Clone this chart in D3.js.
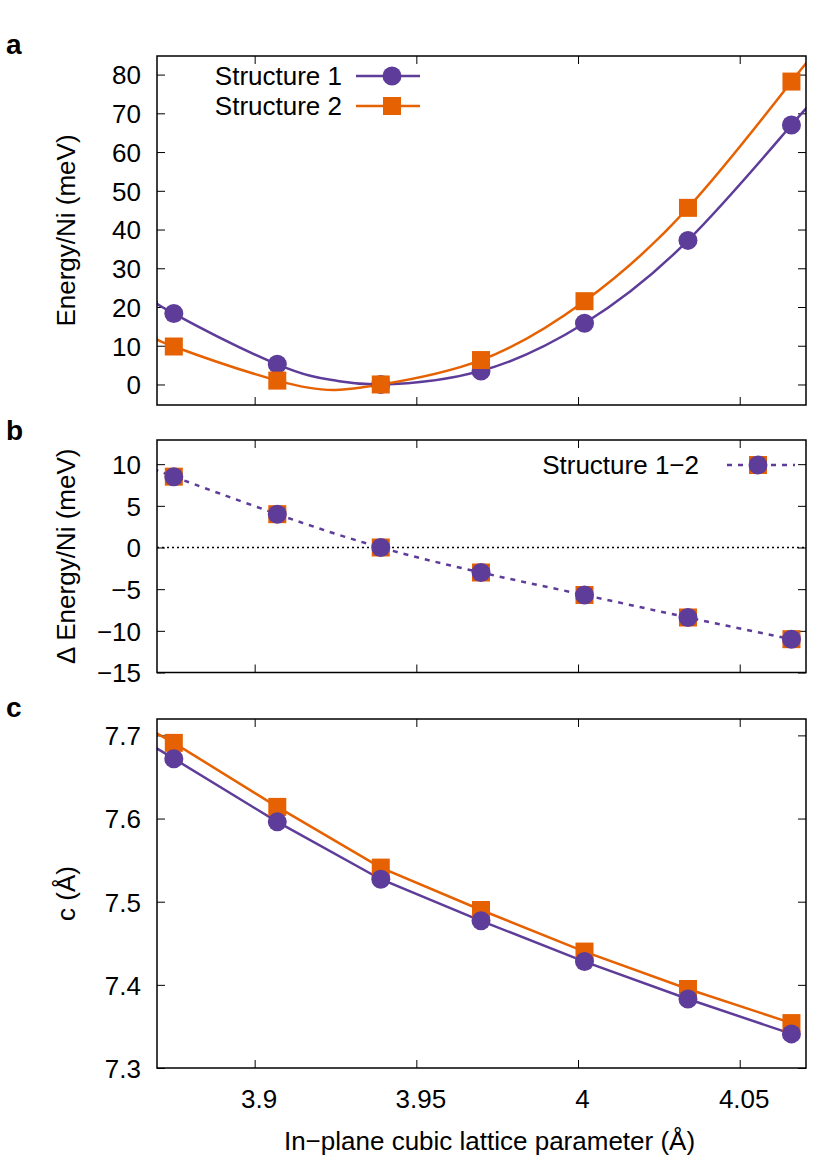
<!DOCTYPE html>
<html>
<head>
<meta charset="utf-8">
<script src="https://cdn.jsdelivr.net/npm/d3@7"></script>
<style>
  body { margin: 0; background: #fff; }
  text { font-family: "Liberation Sans", Arial, sans-serif; fill: #000; }
</style>
</head>
<body>
<svg id="chart" width="830" height="1162"></svg>
<script>
// data
const lattice = [3.875, 3.907, 3.939, 3.970, 4.002, 4.034, 4.066]
const energy1 = [18.3, 5.2, 0, 3.5, 15.8, 37.2, 67.0]
const energy2 = [9.8, 1.0, 0, 6.3, 21.5, 45.6, 78.2]
// fitted curves (as drawn, incl. ends at the frame)
const fitX = [3.870, 3.875, 3.907, 3.925, 3.939, 3.970, 4.002, 4.034, 4.066, 4.072]
const fit1 = [21.3, 18.3, 5.2, 1.0, 0, 3.5, 15.8, 37.2, 67.0, 72.0]
const fit2 = [12.0, 9.8, 1.0, -1.4, 0, 6.3, 21.5, 45.6, 78.2, 84.0]
const deltaE = [8.5, 4.0, 0, -3.0, -5.7, -8.4, -11.0]
const deltaFitX = [3.869, 3.875, 3.907, 3.939, 3.970, 4.002, 4.034, 4.066]
const deltaFit = [9.4, 8.5, 4.0, 0, -3.0, -5.7, -8.4, -11.0]
const cX = [3.869, 3.875, 3.907, 3.939, 3.970, 4.002, 4.034, 4.066]
const c1 = [7.686, 7.672, 7.596, 7.527, 7.477, 7.428, 7.383, 7.341]
const c2 = [7.704, 7.691, 7.614, 7.541, 7.490, 7.440, 7.395, 7.354]
const xTicks = [3.9, 3.95, 4, 4.05]

const purple = '#5e3c99', orange = '#e66101'
const fs = '26px'
const svg = d3.select('#chart')
const left = 157, right = 806

const x = d3.scaleLinear().domain([3.8698, 4.0705]).range([left, right])

function panel ({ top, bottom, domain, ticks, fmt, label, letter, letterY }) {
  const y = d3.scaleLinear().domain(domain).range([bottom, top])
  const g = svg.append('g')
  const clipId = 'clip' + letter
  svg.append('clipPath').attr('id', clipId).append('rect')
    .attr('x', left).attr('y', top).attr('width', right - left).attr('height', bottom - top)
  const blank = () => ''
  const axes = [
    [d3.axisBottom(x).tickValues(xTicks).tickSize(-8).tickFormat(letter === 'c' ? d3.format('') : blank), `translate(0,${bottom})`, 'b'],
    [d3.axisTop(x).tickValues(xTicks).tickSize(-8).tickFormat(blank), `translate(0,${top})`, 't'],
    [d3.axisLeft(y).tickValues(ticks).tickSize(-8).tickFormat(fmt), `translate(${left},0)`, 'l'],
    [d3.axisRight(y).tickValues(ticks).tickSize(-8).tickFormat(blank), `translate(${right},0)`, 'r']
  ]
  axes.forEach(([ax, tr, side]) => {
    const a = g.append('g').attr('transform', tr).call(ax).attr('font-size', null).attr('font-family', null)
    a.select('.domain').remove()
    a.selectAll('line').attr('stroke', '#000').attr('stroke-width', 1)
    a.selectAll('text').style('font-size', fs)
    if (side === 'l') a.selectAll('text').attr('x', -16).attr('dy', '0.36em')
    if (side === 'b') a.selectAll('text').attr('y', 22).attr('dx', 4)
  })
  g.append('text').attr('transform', `translate(${66},${(top + bottom) / 2}) rotate(-90)`)
    .attr('text-anchor', 'middle').attr('dy', '0.35em').style('font-size', fs).text(label)
  svg.append('text').attr('x', 6).attr('y', letterY).style('font-size', '28px').style('font-weight', 'bold').text(letter)
  const plot = svg.append('g').attr('clip-path', `url(#${clipId})`)
  svg.append('rect').attr('x', left).attr('y', top).attr('width', right - left).attr('height', bottom - top)
    .attr('fill', 'none').attr('stroke', '#000').attr('stroke-width', 1.5)
  return { y, plot }
}

function circles (sel, xs, ys, y) {
  sel.selectAll(null).data(xs).join('circle')
    .attr('cx', d => x(d)).attr('cy', (d, i) => y(ys[i])).attr('r', 9.5).attr('fill', purple)
}
function squares (sel, xs, ys, y) {
  sel.selectAll(null).data(xs).join('rect')
    .attr('x', d => x(d) - 9).attr('y', (d, i) => y(ys[i]) - 9).attr('width', 18).attr('height', 18).attr('fill', orange)
}

// panel a
{
  const { y, plot } = panel({ top: 56, bottom: 405, domain: [-5.3, 84.8], ticks: d3.range(0, 81, 10), fmt: d3.format('d'),
    label: 'Energy/Ni (meV)', letter: 'a', letterY: 54 })
  const line = d3.line().x(d => x(d[0])).y(d => y(d[1])).curve(d3.curveNatural)
  plot.append('path').datum(fitX.map((d, i) => [d, fit1[i]])).attr('d', line).attr('fill', 'none').attr('stroke', purple).attr('stroke-width', 2.5)
  plot.append('path').datum(fitX.map((d, i) => [d, fit2[i]])).attr('d', line).attr('fill', 'none').attr('stroke', orange).attr('stroke-width', 2.5)
  circles(plot, lattice, energy1, y)
  squares(plot, lattice, energy2, y)
  const lg = svg.append('g')
  ;[['Structure 1', purple, 'c', 76], ['Structure 2', orange, 's', 106]].forEach(([t, col, m, ly]) => {
    lg.append('text').attr('x', 342).attr('y', ly).attr('dy', '0.35em').attr('text-anchor', 'end').style('font-size', fs).text(t)
    lg.append('line').attr('x1', 356).attr('x2', 420).attr('y1', ly).attr('y2', ly).attr('stroke', col).attr('stroke-width', 2.5)
    if (m === 'c') lg.append('circle').attr('cx', 392).attr('cy', ly).attr('r', 9.5).attr('fill', col)
    else lg.append('rect').attr('x', 383).attr('y', ly - 9).attr('width', 18).attr('height', 18).attr('fill', col)
  })
}

// panel b
{
  const { y, plot } = panel({ top: 440, bottom: 672.5, domain: [-15, 12.9], ticks: d3.range(-15, 11, 5), fmt: d => d3.format('d')(d).replace('-', '\u2212'),
    label: '\u0394 Energy/Ni (meV)', letter: 'b', letterY: 440 })
  plot.append('line').attr('x1', left).attr('x2', right).attr('y1', y(0)).attr('y2', y(0))
    .attr('stroke', '#000').attr('stroke-width', 1.5).attr('stroke-dasharray', '2,3')
  const line = d3.line().x(d => x(d[0])).y(d => y(d[1])).curve(d3.curveNatural)
  plot.append('path').datum(deltaFitX.map((d, i) => [d, deltaFit[i]])).attr('d', line).attr('fill', 'none')
    .attr('stroke', purple).attr('stroke-width', 2.5).attr('stroke-dasharray', '5,6')
  squares(plot, lattice, deltaE, y)
  circles(plot, lattice, deltaE, y)
  svg.append('text').attr('x', 699).attr('y', 465).attr('dy', '0.35em').attr('text-anchor', 'end').style('font-size', fs).text('Structure 1\u22122')
  svg.append('line').attr('x1', 727).attr('x2', 795).attr('y1', 465).attr('y2', 465).attr('stroke', purple).attr('stroke-width', 2.5).attr('stroke-dasharray', '5,6')
  svg.append('rect').attr('x', 749).attr('y', 456).attr('width', 18).attr('height', 18).attr('fill', orange)
  svg.append('circle').attr('cx', 758).attr('cy', 465).attr('r', 9.5).attr('fill', purple)
}

// panel c
{
  const { y, plot } = panel({ top: 719, bottom: 1068, domain: [7.3, 7.7197], ticks: [7.3, 7.4, 7.5, 7.6, 7.7], fmt: d3.format('.1f'),
    label: 'c (\u00c5)', letter: 'c', letterY: 717 })
  const line = d3.line().x(d => x(d[0])).y(d => y(d[1]))
  plot.append('path').datum(cX.map((d, i) => [d, c1[i]])).attr('d', line).attr('fill', 'none').attr('stroke', purple).attr('stroke-width', 2.5)
  plot.append('path').datum(cX.map((d, i) => [d, c2[i]])).attr('d', line).attr('fill', 'none').attr('stroke', orange).attr('stroke-width', 2.5)
  squares(plot, lattice, c2.slice(1), y)
  circles(plot, lattice, c1.slice(1), y)
  svg.append('text').attr('x', (left + right) / 2 + 8).attr('y', 1150).attr('text-anchor', 'middle').style('font-size', fs)
    .text('In\u2212plane cubic lattice parameter (\u00c5)')
}
</script>
</body>
</html>
